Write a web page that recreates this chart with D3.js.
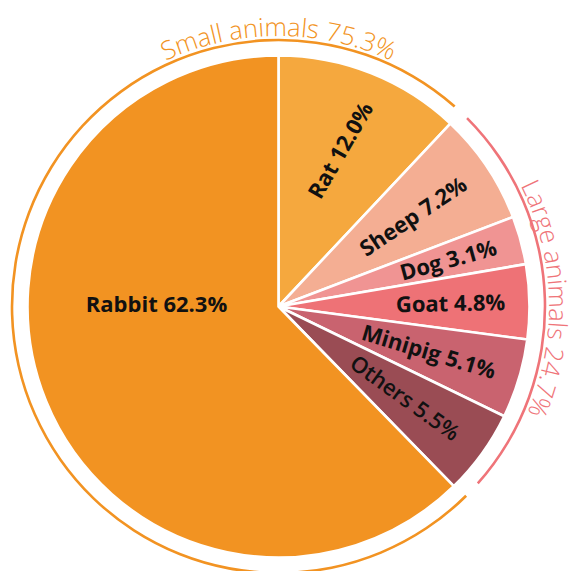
<!DOCTYPE html>
<html>
<head>
<meta charset="utf-8">
<script src="https://cdn.jsdelivr.net/npm/d3@7"></script>
<style>
  html, body { margin: 0; padding: 0; background: #ffffff; }
  svg { display: block; }
</style>
</head>
<body>
<svg id="chart" width="573" height="571"></svg>
<script>
// Species shares (%), clockwise from 12 o'clock
const species = ["Rat", "Sheep", "Dog", "Goat", "Minipig", "Others", "Rabbit"];
const shares = [12.0, 7.2, 3.1, 4.8, 5.1, 5.5, 62.3];

// Outer grouping ring, clockwise starting where Rat ends
const groups = ["Large animals", "Small animals"];
const groupShares = [24.7, 75.3];

// Styling
const sliceColors = {
  Rat: "#F5A83E", Sheep: "#F4AE93", Dog: "#F09493", Goat: "#EE7276",
  Minipig: "#C9636F", Others: "#9A4C54", Rabbit: "#F29322"
};
const groupColors = { "Small animals": "#F29322", "Large animals": "#EF7479" };

// Label placement (radius from centre, optional fixed angle / rotation in degrees)
const labelLayout = {
  Rat: { r: 168, rotate: -60 },
  Sheep: { r: 162 },
  Dog: { r: 176 },
  Goat: { r: 172 },
  Minipig: { r: 157 },
  Others: { r: 156, weight: 600 },
  Rabbit: { r: 122, angle: -89, rotate: 0 }
};

const svg = d3.select("#chart");
const cx = 278.5, cy = 306.5;
const R = 251;
const ringR = 266.5;
const g = svg.append("g").attr("transform", `translate(${cx},${cy})`);

const rad = d => d * Math.PI / 180;
const deg = r => r * 180 / Math.PI;

// Pie slices
const pie = d3.pie().sort(null).value(d => d.value);
const sliceData = pie(species.map((name, i) => ({ name, value: shares[i] })));
const arc = d3.arc().innerRadius(0).outerRadius(R);

g.selectAll("path.slice")
  .data(sliceData)
  .join("path")
  .attr("class", "slice")
  .attr("d", arc)
  .attr("fill", d => sliceColors[d.data.name])
  .attr("stroke", "#ffffff")
  .attr("stroke-width", 2.6)
  .attr("stroke-linejoin", "round");

// Slice labels
g.selectAll("text.slabel")
  .data(sliceData)
  .join("text")
  .attr("class", "slabel")
  .attr("transform", d => {
    const L = labelLayout[d.data.name];
    const mid = L.angle !== undefined ? rad(L.angle) : (d.startAngle + d.endAngle) / 2;
    const x = L.r * Math.sin(mid), y = -L.r * Math.cos(mid);
    const rot = L.rotate !== undefined ? L.rotate : deg(mid) - 90;
    return `translate(${x},${y}) rotate(${rot})`;
  })
  .attr("text-anchor", "middle")
  .attr("dy", "0.36em")
  .attr("font-family", "'Open Sans', 'DejaVu Sans', sans-serif")
  .attr("font-size", 22)
  .attr("font-weight", d => labelLayout[d.data.name].weight || 700)
  .attr("fill", "#111111")
  .text((d, i) => `${d.data.name} ${shares[i].toFixed(1)}%`);

// Outer group ring, starting at the end of the Rat slice
const ratEnd = sliceData[0].endAngle;
const ringPie = d3.pie().sort(null).value(d => d.value)
  .startAngle(ratEnd).endAngle(ratEnd + 2 * Math.PI).padAngle(0.045);
const ringData = ringPie(groups.map((name, i) => ({ name, value: groupShares[i] })));
const ringArc = d3.arc().innerRadius(ringR - 1.3).outerRadius(ringR + 1.3);

g.selectAll("path.ring")
  .data(ringData)
  .join("path")
  .attr("class", "ring")
  .attr("d", ringArc)
  .attr("fill", d => groupColors[d.data.name]);

// Curved group labels
const textR = 270.5;
const labelCentres = {
  "Small animals": 0,
  "Large animals": null // middle of its ring arc
};
const defs = g.append("defs");
ringData.forEach((d, i) => {
  const c = labelCentres[d.data.name] !== null
    ? rad(labelCentres[d.data.name])
    : (d.startAngle + d.endAngle) / 2;
  const p = d3.path();
  p.arc(0, 0, textR, c - Math.PI, c, false);
  defs.append("path").attr("id", "gpath" + i).attr("d", p.toString());
  g.append("text")
    .attr("font-family", "'Open Sans', 'DejaVu Sans', sans-serif")
    .attr("font-size", 25.5)
    .attr("font-weight", 300)
    .attr("fill", groupColors[d.data.name])
    .append("textPath")
    .attr("href", "#gpath" + i)
    .attr("startOffset", "50%")
    .attr("text-anchor", "middle")
    .text(`${d.data.name} ${groupShares[i].toFixed(1)}%`);
});
</script>
</body>
</html>
